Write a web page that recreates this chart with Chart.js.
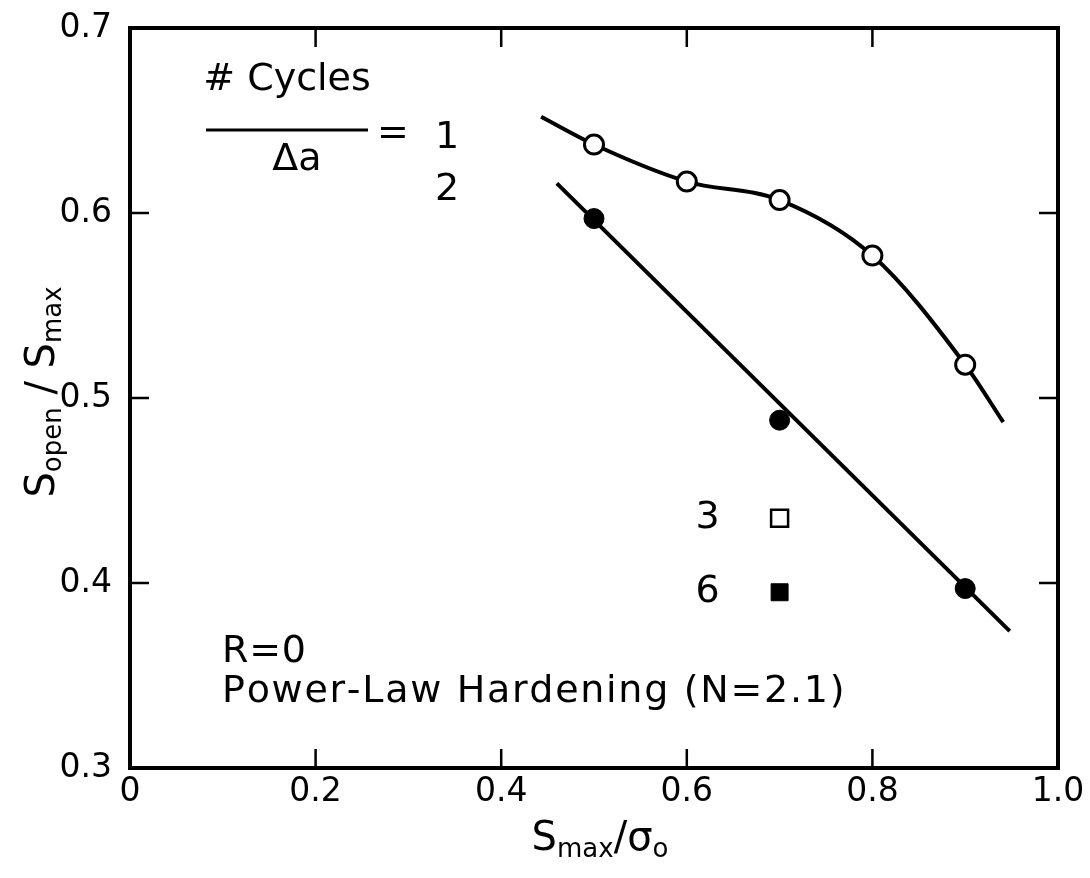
<!DOCTYPE html>
<html>
<head>
<meta charset="utf-8">
<script src="https://cdn.jsdelivr.net/npm/chart.js@4/dist/chart.umd.min.js"></script>
<style>
  html, body { margin: 0; padding: 0; background: #fff; }
  #wrap { width: 1090px; height: 878px; }
</style>
</head>
<body>
<div id="wrap"><canvas id="c" width="1090" height="878"></canvas></div>
<script>
// ---- data ----
const xTickValues = [0, 0.2, 0.4, 0.6, 0.8, 1.0];
const yTickValues = [0.3, 0.4, 0.5, 0.6, 0.7];

// #Cycles/Δa = 1 (open circles)
const cycles1X = [0.5, 0.6, 0.7, 0.8, 0.9];
const cycles1Y = [0.637, 0.617, 0.607, 0.577, 0.518];
// #Cycles/Δa = 2 (filled circles)
const cycles2X = [0.5, 0.7, 0.9];
const cycles2Y = [0.597, 0.488, 0.397];
// #Cycles/Δa = 3 (open square)
const cycles3X = [0.7];
const cycles3Y = [0.435];
// #Cycles/Δa = 6 (filled square)
const cycles6X = [0.7];
const cycles6Y = [0.395];

// smooth fitted curve through the open circles
const curve1X = [0.443, 0.5, 0.6, 0.7, 0.8, 0.9, 0.941];
const curve1Y = [0.652, 0.637, 0.617, 0.607, 0.577, 0.518, 0.487];
// straight fitted line through the filled circles
const line2X = [0.46, 0.948];
const line2Y = [0.616, 0.374];

const pts = (xs, ys) => xs.map((x, i) => ({ x: x, y: ys[i] }));

const FONT = '"DejaVu Sans", "Liberation Sans", sans-serif';

function drawRich(ctx, parts, x, y, align) {
  let total = 0;
  parts.forEach(p => { ctx.font = p.size + 'px ' + FONT; p.w = ctx.measureText(p.t).width; total += p.w; });
  let cx = align === 'center' ? x - total / 2 : x;
  parts.forEach(p => {
    ctx.font = p.size + 'px ' + FONT;
    ctx.textAlign = 'left';
    ctx.textBaseline = 'alphabetic';
    ctx.fillText(p.t, cx, y + (p.dy || 0));
    cx += p.w;
  });
}

function fitText(ctx, text, x, y, size, targetW) {
  ctx.font = size + 'px ' + FONT;
  const w = ctx.measureText(text).width;
  const n = text.length - 1;
  const sp = n > 0 ? Math.max(0, (targetW - w) / n) : 0;
  ctx.textAlign = 'left';
  ctx.textBaseline = 'middle';
  let cx = x;
  for (const ch of text) {
    ctx.fillText(ch, cx, y);
    cx += ctx.measureText(ch).width + sp;
  }
}

const framePlugin = {
  id: 'frame',
  afterDraw(chart) {
    const ctx = chart.ctx;
    const a = chart.chartArea;
    const xs = chart.scales.x, ys = chart.scales.y;
    ctx.save();
    ctx.strokeStyle = '#000';
    ctx.fillStyle = '#000';
    ctx.lineWidth = 4;
    ctx.lineJoin = 'miter';
    ctx.strokeRect(a.left, a.top, a.right - a.left, a.bottom - a.top);
    // inward ticks
    ctx.lineWidth = 2.5;
    const tl = 19;
    ctx.beginPath();
    xTickValues.slice(1, -1).forEach(v => {
      const px = xs.getPixelForValue(v);
      ctx.moveTo(px, a.bottom); ctx.lineTo(px, a.bottom - tl);
      ctx.moveTo(px, a.top); ctx.lineTo(px, a.top + tl);
    });
    yTickValues.slice(1, -1).forEach(v => {
      const py = ys.getPixelForValue(v);
      ctx.moveTo(a.left, py); ctx.lineTo(a.left + tl, py);
      ctx.moveTo(a.right, py); ctx.lineTo(a.right - tl, py);
    });
    ctx.stroke();

    // annotation: #Cycles / Δa = 1, 2
    ctx.font = '38px ' + FONT;
    ctx.textBaseline = 'middle';
    ctx.textAlign = 'center';
    ctx.fillText('# Cycles', 287, 80);
    ctx.fillText('\u0394a', 297, 160);
    ctx.lineWidth = 3;
    ctx.beginPath(); ctx.moveTo(206, 130); ctx.lineTo(368, 130); ctx.stroke();
    ctx.fillText('=', 393, 134);
    ctx.fillText('1', 447, 138);
    ctx.fillText('2', 447, 190);

    // labels next to squares
    const sx = xs.getPixelForValue(cycles3X[0]);
    ctx.fillText('3', sx - 72, ys.getPixelForValue(cycles3Y[0]));
    ctx.fillText('6', sx - 72, ys.getPixelForValue(cycles6Y[0]));

    // R=0 and hardening note
    fitText(ctx, 'R=0', 222, 652, 38, 84);
    fitText(ctx, 'Power-Law Hardening (N=2.1)', 222, 692, 38, 618);

    // x axis title S_max / σ_o
    drawRich(ctx, [
      { t: 'S', size: 40 }, { t: 'max', size: 26, dy: 7 },
      { t: '/', size: 40 }, { t: '\u03C3', size: 40 }, { t: 'o', size: 26, dy: 7 }
    ], 600, 850, 'center');

    // y axis title S_open / S_max (rotated)
    ctx.save();
    ctx.translate(54, 392);
    ctx.rotate(-Math.PI / 2);
    drawRich(ctx, [
      { t: 'S', size: 40 }, { t: 'open', size: 26, dy: 7 },
      { t: ' / ', size: 40 }, { t: 'S', size: 40 }, { t: 'max', size: 26, dy: 7 }
    ], 0, 0, 'center');
    ctx.restore();
    ctx.restore();
  }
};

new Chart(document.getElementById('c'), {
  type: 'scatter',
  data: {
    datasets: [
      { label: '1', data: pts(cycles1X, cycles1Y), order: 0, showLine: false,
        pointStyle: 'circle', pointRadius: 9.5, pointBorderWidth: 3,
        pointBackgroundColor: '#fff', pointBorderColor: '#000' },
      { label: '2', data: pts(cycles2X, cycles2Y), order: 0, showLine: false,
        pointStyle: 'circle', pointRadius: 10, pointBorderWidth: 1,
        pointBackgroundColor: '#000', pointBorderColor: '#000' },
      { label: '3', data: pts(cycles3X, cycles3Y), order: 0, showLine: false,
        pointStyle: 'rect', pointRadius: 12, pointBorderWidth: 2.5,
        pointBackgroundColor: '#fff', pointBorderColor: '#000' },
      { label: '6', data: pts(cycles6X, cycles6Y), order: 0, showLine: false,
        pointStyle: 'rect', pointRadius: 12, pointBorderWidth: 1,
        pointBackgroundColor: '#000', pointBorderColor: '#000' },
      { label: 'fit1', data: pts(curve1X, curve1Y), order: 1, showLine: true,
        pointRadius: 0, borderColor: '#000', borderWidth: 4,
        cubicInterpolationMode: 'monotone' },
      { label: 'fit2', data: pts(line2X, line2Y), order: 1, showLine: true,
        pointRadius: 0, borderColor: '#000', borderWidth: 4 }
    ]
  },
  options: {
    responsive: false,
    devicePixelRatio: 1,
    animation: false,
    events: [],
    layout: { padding: { top: 28, right: 32, left: 0, bottom: 0 } },
    plugins: { legend: { display: false }, tooltip: { enabled: false } },
    scales: {
      x: {
        type: 'linear', min: 0, max: 1,
        afterFit: s => { s.height = 110; s.paddingLeft = 0; s.paddingRight = 0; },
        afterBuildTicks: s => { s.ticks = xTickValues.map(v => ({ value: v })); },
        grid: { display: false, drawTicks: false },
        border: { display: false },
        ticks: {
          color: '#000', padding: 5, maxRotation: 0,
          font: { family: FONT, size: 33 },
          callback: v => v === 0 ? '0' : v.toFixed(1)
        }
      },
      y: {
        type: 'linear', min: 0.3, max: 0.7,
        afterFit: s => { s.width = 130; s.paddingTop = 0; s.paddingBottom = 0; },
        afterBuildTicks: s => { s.ticks = yTickValues.map(v => ({ value: v })); },
        grid: { display: false, drawTicks: false },
        border: { display: false },
        ticks: {
          color: '#000', padding: 18,
          font: { family: FONT, size: 33 },
          callback: v => v.toFixed(1)
        }
      }
    }
  },
  plugins: [framePlugin]
});
</script>
</body>
</html>
